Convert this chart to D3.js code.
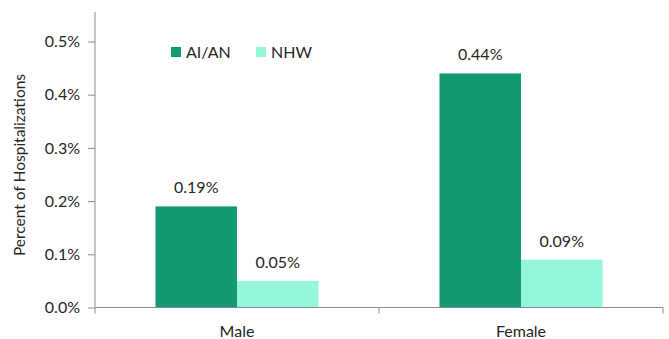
<!DOCTYPE html>
<html>
<head>
<meta charset="utf-8">
<script src="https://cdn.jsdelivr.net/npm/d3@7"></script>
<style>
  html, body { margin: 0; padding: 0; background: #fff; }
  svg text { font-family: Lato, "Open Sans", sans-serif; fill: #262626; }
</style>
</head>
<body>
<svg id="chart" width="669" height="339"></svg>
<script>
// Hospitalization share by sex, AI/AN vs NHW
const categories = ["Male", "Female"];
const seriesNames = ["AI/AN", "NHW"];
const aianValues = [0.19, 0.44];
const nhwValues = [0.05, 0.09];
const yTicks = [0.0, 0.1, 0.2, 0.3, 0.4, 0.5];
const colors = ["#139A73", "#96F6DB"];

const svg = d3.select("#chart");
const margin = { left: 95, right: 6, top: 12, bottom: 31.5 };
const W = 669, H = 339;

const x0 = d3.scaleBand()
  .domain(categories)
  .range([margin.left, W - margin.right])
  .padding(0);

const bw = x0.bandwidth();
const x1 = d3.scaleBand()
  .domain(seriesNames)
  .range([bw * 0.213, bw * 0.787]);

const y = d3.scaleLinear()
  .domain([0, 0.5])
  .range([H - margin.bottom, 41.5]);

const rows = categories.map((c, i) => ({
  category: c,
  values: [
    { series: seriesNames[0], value: aianValues[i] },
    { series: seriesNames[1], value: nhwValues[i] }
  ]
}));

const fs = "16px";

// y axis
const yAxis = d3.axisLeft(y)
  .tickValues(yTicks)
  .tickSize(7)
  .tickPadding(8)
  .tickFormat(d => d.toFixed(1) + "%");

const gy = svg.append("g")
  .attr("transform", `translate(${margin.left},0)`)
  .call(yAxis);
gy.select(".domain").remove();
gy.append("line")
  .attr("x1", 0).attr("x2", 0)
  .attr("y1", margin.top).attr("y2", y(0))
  .attr("stroke", "#8c8c8c");
gy.selectAll(".tick line").attr("stroke", "#8c8c8c");
gy.selectAll(".tick text")
  .style("font-size", fs)
  .attr("fill", "#262626");

// bars
const groups = svg.append("g").selectAll("g")
  .data(rows)
  .join("g")
  .attr("transform", d => `translate(${x0(d.category)},0)`);

groups.selectAll("rect")
  .data(d => d.values)
  .join("rect")
  .attr("x", d => x1(d.series))
  .attr("width", x1.bandwidth())
  .attr("y", d => y(d.value))
  .attr("height", d => y(0) - y(d.value))
  .attr("fill", (d, i) => colors[i]);

groups.selectAll("text.val")
  .data(d => d.values)
  .join("text")
  .attr("class", "val")
  .attr("x", d => x1(d.series) + x1.bandwidth() / 2)
  .attr("y", d => y(d.value) - 13)
  .attr("text-anchor", "middle")
  .style("font-size", fs)
  .text(d => d.value.toFixed(2) + "%");

// x axis baseline and category separators
const gx = svg.append("g");
gx.append("line")
  .attr("x1", margin.left).attr("x2", W - margin.right)
  .attr("y1", y(0)).attr("y2", y(0))
  .attr("stroke", "#8c8c8c");
const seps = [margin.left, x0(categories[1]), W - margin.right];
gx.selectAll("line.sep")
  .data(seps)
  .join("line")
  .attr("class", "sep")
  .attr("x1", d => d).attr("x2", d => d)
  .attr("y1", y(0)).attr("y2", y(0) + 6)
  .attr("stroke", "#8c8c8c");
gx.selectAll("text")
  .data(categories)
  .join("text")
  .attr("x", d => x0(d) + bw / 2)
  .attr("y", 337)
  .attr("text-anchor", "middle")
  .style("font-size", fs)
  .text(d => d);

// y axis title
svg.append("text")
  .attr("transform", `translate(25,165) rotate(-90)`)
  .attr("text-anchor", "middle")
  .style("font-size", "15.5px")
  .text("Percent of Hospitalizations");

// legend
const legendX = [171, 256];
const lg = svg.append("g").selectAll("g")
  .data(seriesNames)
  .join("g")
  .attr("transform", (d, i) => `translate(${legendX[i]},47)`);
lg.append("rect")
  .attr("width", 10).attr("height", 10)
  .attr("fill", (d, i) => colors[i]);
lg.append("text")
  .attr("x", 15).attr("y", 10.5)
  .style("font-size", fs)
  .text(d => d);
</script>
</body>
</html>
